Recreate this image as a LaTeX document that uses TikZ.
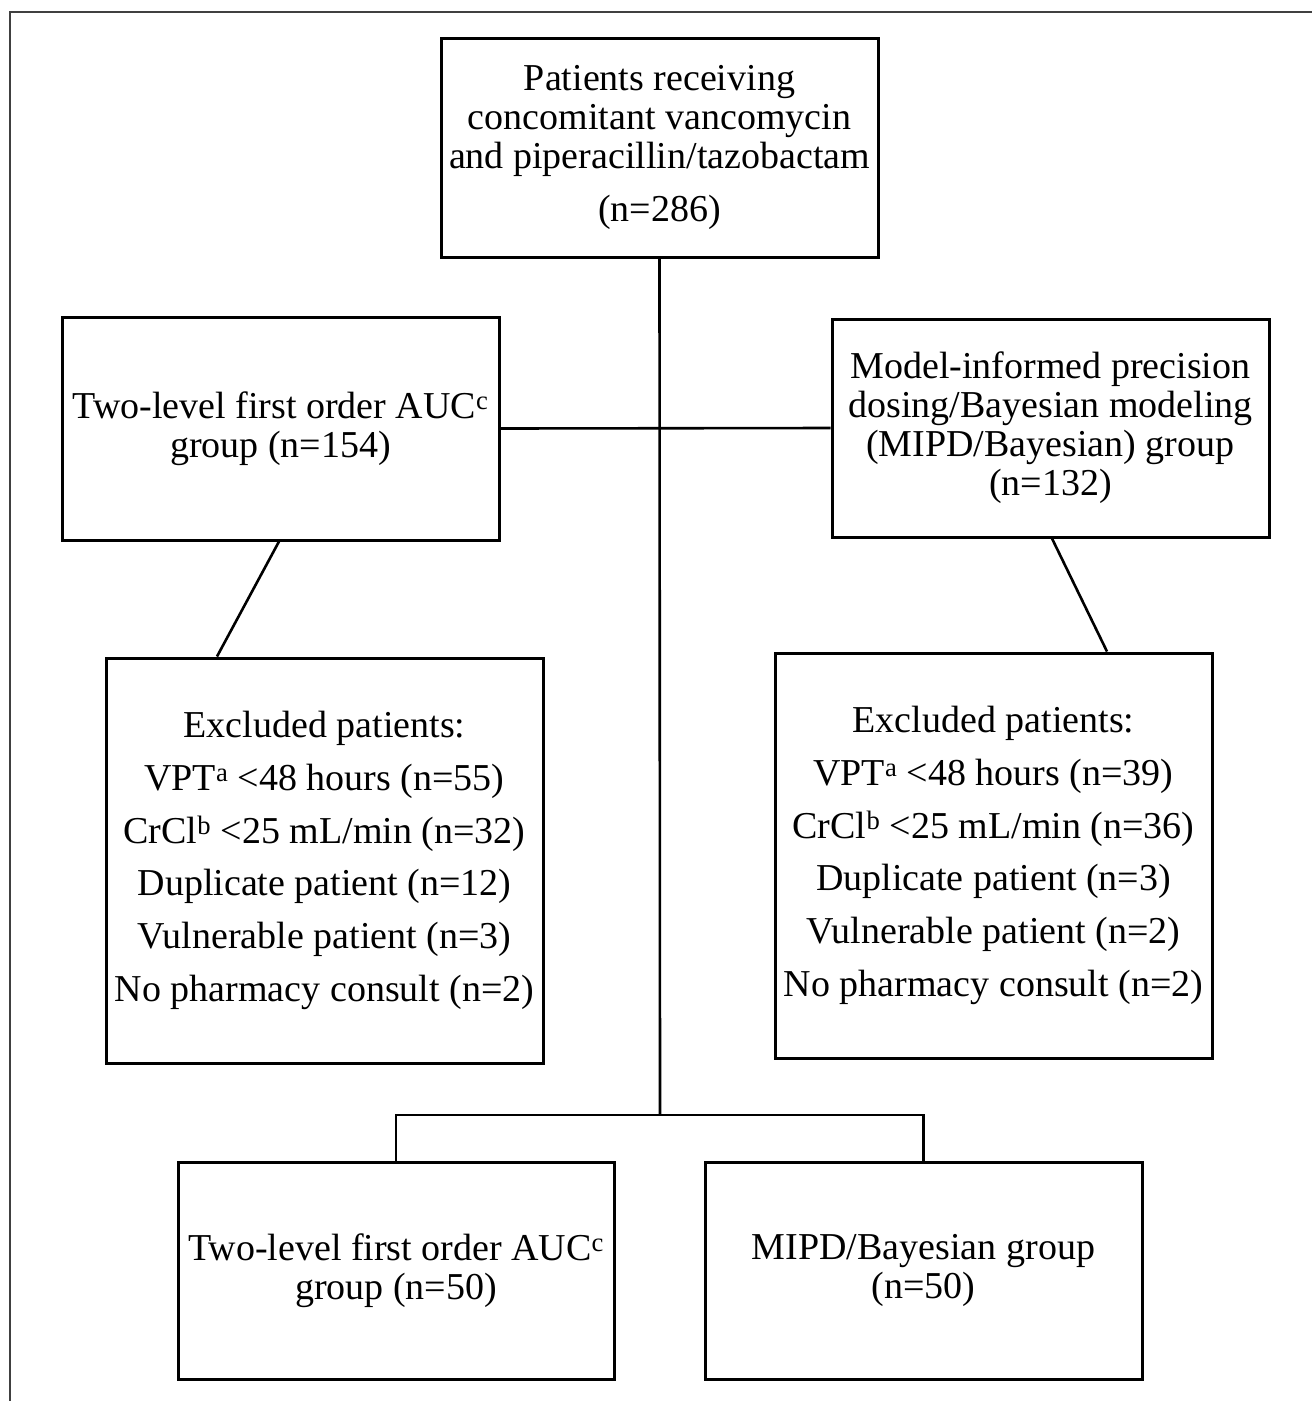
\documentclass[tikz,border=0pt]{standalone}
\usepackage{fontspec}
\setmainfont{Liberation Serif}
\begin{document}
\begin{tikzpicture}[x=1pt,y=-1pt,
  box/.style={draw=black, line width=3pt, rectangle, inner sep=0pt, align=center,
    minimum width=437pt, font=\fontsize{38}{39}\selectfont},
  exbox/.style={box, font=\fontsize{38}{52.8}\selectfont},
  conn/.style={draw=black, line width=2.6pt}]
\useasboundingbox (0,0) rectangle (1312,1401);
\fill[white] (0,0) rectangle (1312,1401);
\draw[line width=1.4pt, black!75] (10,1401) -- (10,12) -- (1312,12);

\node[box, minimum height=219pt] (top) at (659.5,147.5)
  {Patients receiving\\concomitant vancomycin\\and piperacillin/tazobactam\\[14pt](n=286)};
\node[box, minimum height=223pt] (lg) at (280.5,428.5)
  {Two-level first order AUC\textsuperscript{c}\\group (n=154)};
\node[box, minimum height=218pt] (rg) at (1050.5,428)
  {Model-informed precision\\dosing/Bayesian modeling\\(MIPD/Bayesian) group\\(n=132)};
\node[exbox, minimum height=405pt] (el) at (324.5,860.5)
  {Excluded patients:\\VPT\textsuperscript{a} <48 hours (n=55)\\CrCl\textsuperscript{b} <25 mL/min (n=32)\\Duplicate patient (n=12)\\Vulnerable patient (n=3)\\No pharmacy consult (n=2)};
\node[exbox, minimum height=405pt] (er) at (993.5,855.5)
  {Excluded patients:\\VPT\textsuperscript{a} <48 hours (n=39)\\CrCl\textsuperscript{b} <25 mL/min (n=36)\\Duplicate patient (n=3)\\Vulnerable patient (n=2)\\No pharmacy consult (n=2)};
\node[box, minimum width=436pt, minimum height=217pt] (bl) at (396,1270.5)
  {Two-level first order AUC\textsuperscript{c}\\group (n=50)};
\node[box, minimum height=217pt] (br) at (923.5,1270.5)
  {MIPD/Bayesian group\\(n=50)};

\coordinate (j) at (660,1115);
\draw[conn] (top.south) -- (j);
\draw[conn] (bl.north) |- (j) -| (br.north);
\draw[conn] (lg.east) -- (rg.west);
\draw[conn] ([xshift=-1.5pt]lg.south) -- ([xshift=-107.5pt]el.north);
\draw[conn] ([xshift=1.5pt]rg.south) -- ([xshift=113.5pt]er.north);
\end{tikzpicture}
\end{document}
